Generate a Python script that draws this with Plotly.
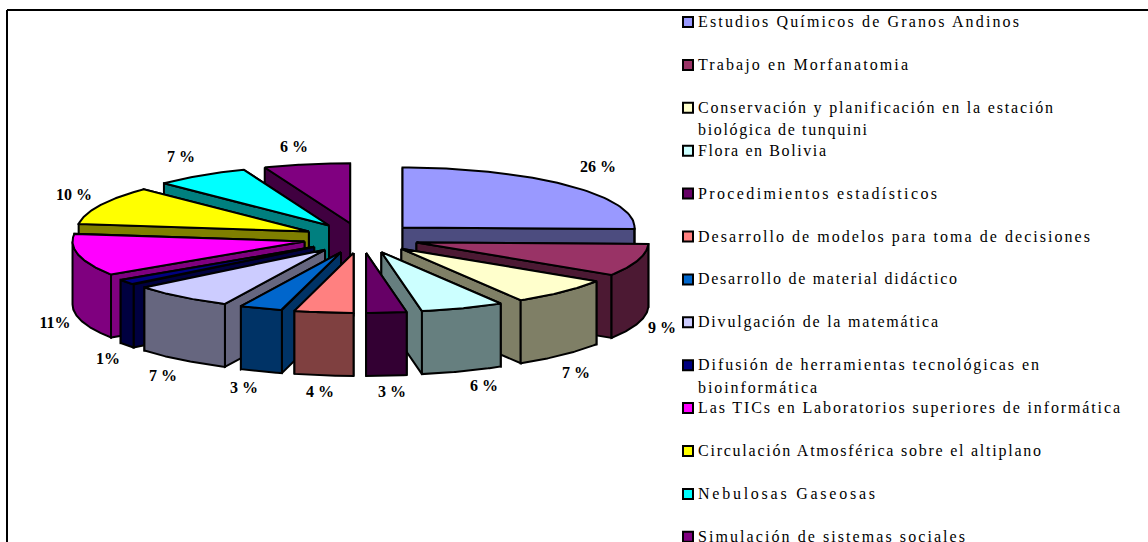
import json

import numpy as np
import plotly.graph_objects as go

# slice sweeps as measured on the drawing, in percent of the circle
# (the printed labels are rounded and do not quite agree with the sweeps)
categories = [
    'Estudios Químicos de Granos Andinos',
    'Trabajo en Morfanatomia',
    'Conservación y planificación en la estación|biológica de tunquini',
    'Flora en Bolivia',
    'Procedimientos estadísticos',
    'Desarrollo de modelos para toma de decisiones',
    'Desarrollo de material didáctico',
    'Divulgación de la matemática',
    'Difusión de herramientas tecnológicas en|bioinformática',
    'Las TICs en Laboratorios superiores de informática',
    'Circulación Atmosférica sobre el altiplano',
    'Nebulosas Gaseosas',
    'Simulación de sistemas sociales',
]
sweeps = [25.4, 8.7, 7.3, 5.8, 2.8, 4.1, 3.0, 7.1, 1.5, 11.3, 10.4, 6.6, 6.0]
percent_labels = ['26 %', '9 %', '7 %', '6 %', '3 %', '4 %', '3 %', '7 %',
                  '1%', '11%', '10 %', '7 %', '6 %']
colors = ['#9999FF', '#993366', '#FFFFCC', '#CCFFFF', '#660066', '#FF8080',
          '#0066CC', '#CCCCFF', '#000080', '#FF00FF', '#FFFF00', '#00FFFF',
          '#800080']

# page geometry, axes run in page pixels
WIDTH, HEIGHT = 1148, 542
CX, CY = 361, 238
RX, RY = 232, 60
DEPTH = 63
EXPLODE = 0.25
OUTLINE = 2

label_x = [598, 662, 576, 484, 392, 320, 244, 163, 108, 55, 74, 181, 294]
label_y = [168, 329, 374, 387, 393, 393, 389, 377, 360, 324, 196, 158, 148]

LEGEND_SWATCH_X = 688
LEGEND_TEXT_X = 698
LEGEND_TOP = 22
LEGEND_PITCH = 42.9
LEGEND_WRAP = 22.5
LEGEND_TEXT_DROP = 1
# width of every legend line on the page, the source sets them loosely
legend_line_widths = [321, 210, 355, 169, 128, 239, 392, 259, 240, 341, 119,
                      422, 343, 177, 267]


def darker(color):
    '''Side walls are the top colour at half brightness.'''
    r, g, b = (int(color[i:i + 2], 16) for i in (1, 3, 5))
    return '#{:02X}{:02X}{:02X}'.format(r // 2, g // 2, b // 2)


def rim(ox, oy, a, b):
    '''Outer edge of a slice between angles a and b (degrees clockwise from 12 o'clock).'''
    t = np.radians(np.linspace(a, b, 60))
    return ox + RX * np.sin(t), oy - RY * np.cos(t)


def polygon(xs, ys, color):
    return go.Scatter(x=list(xs) + [xs[0]],
                      y=list(ys) + [ys[0]],
                      mode='lines',
                      fill='toself',
                      fillcolor=color,
                      line=dict(color='black', width=OUTLINE),
                      hoverinfo='skip',
                      showlegend=False)


def slice_traces(start, sweep, color):
    '''Cut faces, outer wall and top of one exploded slice.'''
    a = start * 3.6
    b = (start + sweep) * 3.6
    mid = np.radians((a + b) / 2)
    ox = CX + EXPLODE * RX * np.sin(mid)
    oy = CY - EXPLODE * RY * np.cos(mid)
    side = darker(color)
    traces = []
    # the hidden cut face goes first so the visible one covers it
    for edge in ((a, b) if np.sin(mid) > 0 else (b, a)):
        ex, ey = rim(ox, oy, edge, edge)
        traces.append(polygon([ox, ex[0], ex[0], ox],
                              [oy, ey[0], ey[0] + DEPTH, oy + DEPTH], side))
    # only the front half of the rim is seen
    lo, hi = max(a, 90), min(b, 270)
    if lo < hi:
        wx, wy = rim(ox, oy, lo, hi)
        traces.append(polygon(np.r_[wx, wx[::-1]],
                              np.r_[wy, wy[::-1] + DEPTH], side))
    tx, ty = rim(ox, oy, a, b)
    traces.append(polygon(np.r_[ox, tx], np.r_[oy, ty], color))
    return traces, np.cos(mid)


starts = np.r_[0, np.cumsum(sweeps)[:-1]]
pieces = [slice_traces(s, v, c) for s, v, c in zip(starts, sweeps, colors)]

fig = go.Figure()
# back to front
for traces, depth_key in sorted(pieces, key=lambda p: -p[1]):
    fig.add_traces(traces)

fig.add_trace(go.Scatter(x=label_x,
                         y=label_y,
                         text=percent_labels,
                         mode='text',
                         textposition='middle center',
                         textfont=dict(family='Liberation Serif',
                                       size=16,
                                       color='black',
                                       weight='bold'),
                         hoverinfo='skip',
                         showlegend=False))

rows = LEGEND_TOP + LEGEND_PITCH * np.arange(len(categories))
fig.add_trace(go.Scatter(x=[LEGEND_SWATCH_X] * len(colors),
                         y=rows,
                         mode='markers',
                         marker=dict(symbol='square',
                                     size=10,
                                     color=colors,
                                     line=dict(color='black', width=2)),
                         hoverinfo='skip',
                         showlegend=False))

# wrapped entries carry their second line below the swatch row
text_x, text_y, text_lines = [], [], []
for row, name in zip(rows, categories):
    for k, part in enumerate(name.split('|')):
        text_x.append(LEGEND_TEXT_X)
        text_y.append(row + LEGEND_TEXT_DROP + k * LEGEND_WRAP)
        text_lines.append(part)
fig.add_trace(go.Scatter(x=text_x,
                         y=text_y,
                         text=text_lines,
                         mode='text',
                         textposition='middle right',
                         textfont=dict(family='Liberation Serif',
                                       size=16,
                                       color='black'),
                         hoverinfo='skip',
                         showlegend=False))

# chart frame, cut off by the page on the right and at the bottom
fig.add_shape(type='line', x0=7, x1=WIDTH, y0=10, y1=10,
              line=dict(color='black', width=2))
fig.add_shape(type='line', x0=7, x1=7, y0=10, y1=HEIGHT,
              line=dict(color='black', width=2))

fig.update_layout(width=WIDTH,
                  height=HEIGHT,
                  margin=dict(l=0, r=0, t=0, b=0),
                  paper_bgcolor='white',
                  plot_bgcolor='white',
                  xaxis=dict(range=[0, WIDTH], visible=False),
                  yaxis=dict(range=[HEIGHT, 0], visible=False))

# plotly has no letter spacing attribute, so stretch the legend lines here
post_script = """
document.body.style.margin = '0';
document.body.style.overflow = 'hidden';
var widths = %s;
document.querySelectorAll('.scatterlayer .trace:last-of-type .textpoint text')
    .forEach(function (t, i) { t.setAttribute('textLength', widths[i]); });
""" % json.dumps(legend_line_widths)

fig.write_html('out.html',
               config={'displayModeBar': False},
               post_script=post_script)
